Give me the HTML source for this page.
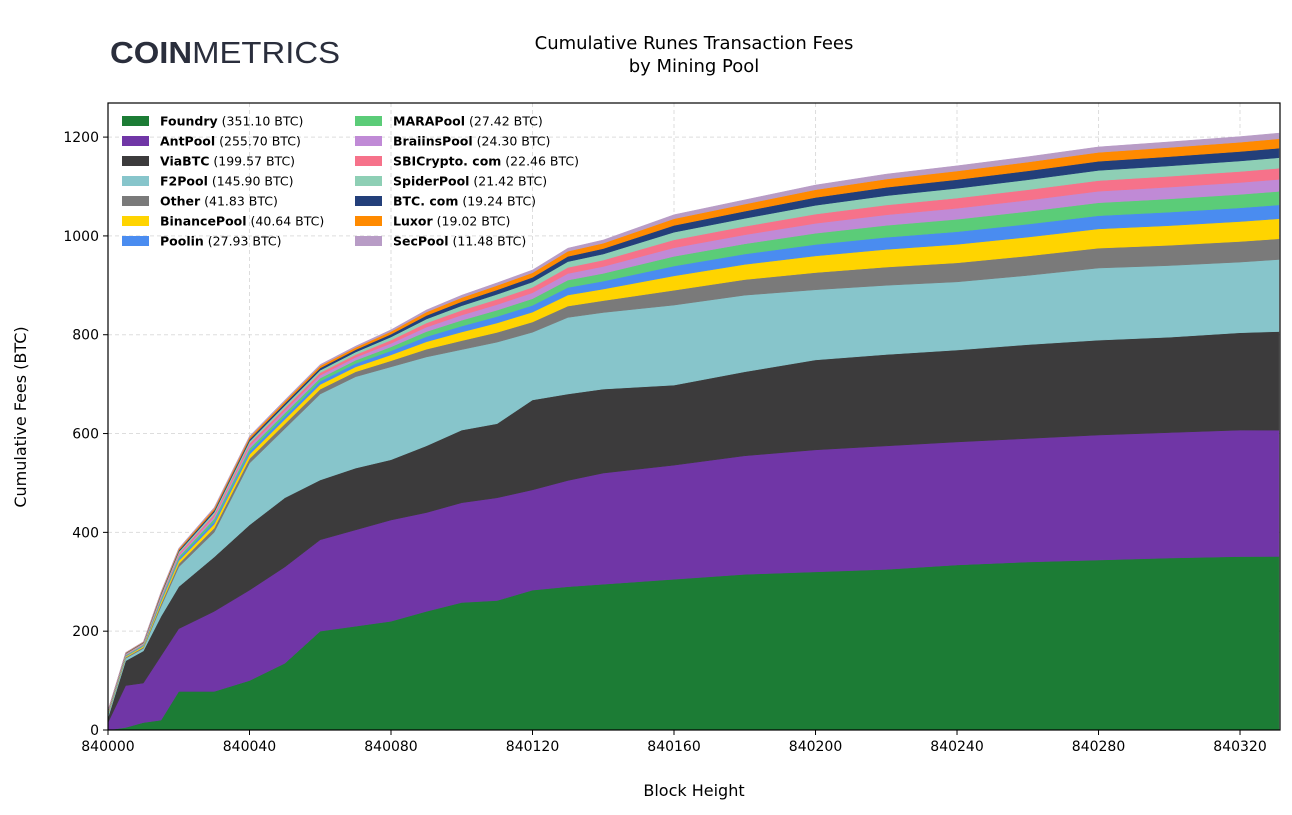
<!DOCTYPE html>
<html><head><meta charset="utf-8"><style>
html,body{margin:0;padding:0;background:#fff;}
body{width:1292px;height:811px;overflow:hidden;font-family:"DejaVu Sans","Liberation Sans",sans-serif;}
</style></head><body>
<svg id="chart" width="1292" height="811" xmlns="http://www.w3.org/2000/svg">
<text x="110" y="63" font-family="Liberation Sans, sans-serif" font-size="31" fill="#2a2e3c" textLength="230" lengthAdjust="spacingAndGlyphs"><tspan font-weight="bold">COIN</tspan><tspan font-weight="normal">METRICS</tspan></text>
<text x="694" y="49" text-anchor="middle" font-size="18" fill="#000">Cumulative Runes Transaction Fees</text>
<text x="694" y="72" text-anchor="middle" font-size="18" fill="#000">by Mining Pool</text>
<g id="grid"></g><g id="areas"></g><g id="axes"></g><g id="legend"></g>
<text transform="translate(26,417) rotate(-90)" text-anchor="middle" font-size="16">Cumulative Fees (BTC)</text>
<text x="694" y="796" text-anchor="middle" font-size="16">Block Height</text>
</svg>
<script>
const blocks=[0,5,10,15,20,30,40,50,60,70,80,90,100,110,120,130,140,160,180,200,220,240,260,280,300,320,331];
const seriesNames=["Foundry","AntPool","ViaBTC","F2Pool","Other","BinancePool","Poolin","MARAPool","BraiinsPool","SBICrypto. com","SpiderPool","BTC. com","Luxor","SecPool"];
const totalsLabel=["351.10","255.70","199.57","145.90","41.83","40.64","27.93","27.42","24.30","22.46","21.42","19.24","19.02","11.48"];
const colors=["#1c7c35","#7036a6","#3c3b3c","#87c5cb","#7a7a7a","#ffd400","#4a8cf0","#5bcc78","#c08ad6","#f6728a","#8ecfb5","#233f7a","#ff8a00","#b89cc6"];
const foundry=[0,5,15,20,78,78,100,135,200,210,220,240,258,262,283,290,295,305,315,320,325,334,340,344,348,351,351.1];
const antpool=[15,85,80,130,127,162,183,195,185,195,205,200,202,208,203,215,225,231,240,247,250,249,250,253,254,256,255.7];
const viabtc=[10,50,65,80,85,110,132,140,121,125,122,135,147,150,182,175,170,162,170,182,185,186,190,192,193,197,199.6];
const f2pool=[5,5,5,20,40,50,125,140,174,185,188,180,163,165,137,155,155,162,155,142,140,138,140,146,145,143,145.9];
const other=[1.6,2,2.3,4.9,6.2,8.2,9,9.5,9.8,10,12.3,15.6,18,19.7,20.7,23,24,30,31.6,34.8,36.9,38.5,39.4,40.2,41,41.7,41.83];
const binance=[1.6,1.9,2.2,4.8,6,8,8.7,9.2,9.5,9.9,11.9,15.1,17.5,19.1,20,22.3,23.4,29.1,30.7,33.7,35.8,37.4,38.2,39,39.8,40.4,40.64];
const poolin=[1.1,1.3,1.5,3.3,4.1,5.5,6,6.3,6.5,6.8,8.2,10.4,12,13.1,13.7,15.3,16,19.9,21,23.1,24.5,25.6,26.2,26.7,27.3,27.7,27.93];
const mara=[1.1,1.3,1.5,3.2,4.1,5.4,5.9,6.2,6.4,6.6,8,10.2,11.8,12.8,13.5,15,15.7,19.6,20.7,22.7,24.1,25.1,25.7,26.2,26.8,27.2,27.42];
const braiins=[1,1.1,1.3,2.9,3.6,4.8,5.2,5.5,5.7,5.9,7.1,9,10.5,11.4,12,13.3,14,17.4,18.3,20.1,21.4,22.3,22.8,23.3,23.8,24.1,24.3];
const sbi=[0.9,1.1,1.2,2.6,3.3,4.4,4.8,5.1,5.3,5.5,6.6,8.4,9.7,10.6,11.1,12.3,12.9,16.1,17,18.7,19.8,20.7,21.1,21.6,22,22.3,22.46];
const spider=[0.8,1,1.2,2.5,3.2,4.2,4.6,4.9,5,5.2,6.3,8,9.2,10.1,10.6,11.8,12.3,15.4,16.2,17.8,18.9,19.7,20.2,20.6,21,21.3,21.42];
const btccom=[0.8,0.9,1,2.3,2.9,3.8,4.1,4.4,4.5,4.7,5.6,7.1,8.3,9,9.5,10.5,11,13.7,14.5,15.9,16.9,17.6,18,18.4,18.8,19.1,19.24];
const luxor=[0.7,0.9,1,2.2,2.8,3.7,4.1,4.3,4.4,4.6,5.6,7,8.1,8.9,9.3,10.4,10.9,13.5,14.3,15.7,16.7,17.4,17.8,18.1,18.5,18.8,19.02];
const secpool=[0.4,0.5,0.6,1.4,1.7,2.3,2.5,2.6,2.7,2.8,3.4,4.3,5,5.4,5.7,6.3,6.6,8.2,8.7,9.5,10.1,10.6,10.8,11,11.3,11.4,11.48];
const xTicks=[0,40,80,120,160,200,240,280,320];
const yTicks=[0,200,400,600,800,1000,1200];
const series=[foundry,antpool,viabtc,f2pool,other,binance,poolin,mara,braiins,sbi,spider,btccom,luxor,secpool];

const NS="http://www.w3.org/2000/svg";
const L=108,R=1280,T=103,B=730,XMAX=331.3,YMAX=1269;
const xs=v=>L+v/XMAX*(R-L), ys=v=>B-v/YMAX*(B-T);
function mk(tag,attrs,parent){const e=document.createElementNS(NS,tag);for(const k in attrs)e.setAttribute(k,attrs[k]);parent.appendChild(e);return e;}
const grid=document.getElementById('grid'),areas=document.getElementById('areas'),axes=document.getElementById('axes'),legend=document.getElementById('legend');
xTicks.forEach(t=>{const l=mk('line',{x1:xs(t),x2:xs(t),y1:T,y2:B,stroke:'#ddd','stroke-dasharray':'4,3','stroke-width':1},grid);

});
yTicks.forEach(t=>{const l=mk('line',{x1:L,x2:R,y1:ys(t),y2:ys(t),stroke:'#ddd','stroke-dasharray':'4,3','stroke-width':1},grid);

});
let base=blocks.map(()=>0);
series.forEach((s,i)=>{
  const top=base.map((b,j)=>b+s[j]);
  let d='M'+blocks.map((b,j)=>xs(b)+','+ys(top[j])).join(' L');
  for(let j=blocks.length-1;j>=0;j--)d+=' L'+xs(blocks[j])+','+ys(base[j]);
  d+='Z';
  const p=mk('path',{d:d,fill:colors[i],stroke:colors[i],'stroke-width':0.5},areas);
  
  
  base=top;
});
const frame=mk('rect',{x:L,y:T,width:R-L,height:B-T,fill:'none',stroke:'#000','stroke-width':1.2},axes);


xTicks.forEach(t=>{mk('line',{x1:xs(t),x2:xs(t),y1:B,y2:B+5,stroke:'#000'},axes);
const tx=mk('text',{x:xs(t),y:B+21,'text-anchor':'middle','font-size':14},axes);tx.textContent=String(840000+t);

});
yTicks.forEach(t=>{mk('line',{x1:L-5,x2:L,y1:ys(t),y2:ys(t),stroke:'#000'},axes);
const tx=mk('text',{x:L-9,y:ys(t)+5,'text-anchor':'end','font-size':14},axes);tx.textContent=String(t);

});
seriesNames.forEach((n,i)=>{
  const col=i<7?0:1,row=i%7;const sx=col?355:122,ty=121+row*20;
  const g=mk('g',{},legend);
  
  
  mk('rect',{x:sx,y:ty-5,width:27,height:10,fill:colors[i]},g);
  const t=mk('text',{x:sx+38,y:ty+4.5,'font-size':12.5},g);
  const b=mk('tspan',{'font-weight':'bold'},t);b.textContent=n;
  const v=mk('tspan',{},t);v.textContent=' ('+totalsLabel[i]+' BTC)';
});
</script>
</body></html>
